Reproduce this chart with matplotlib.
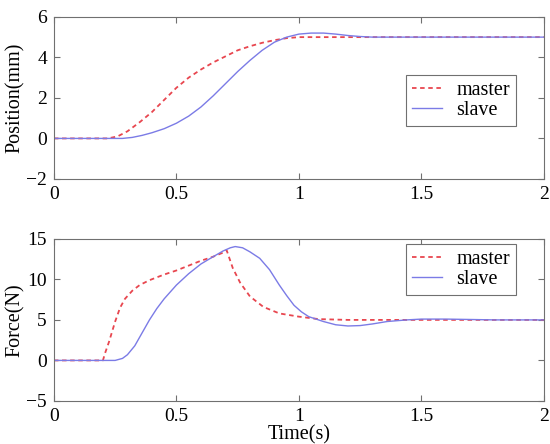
import matplotlib.pyplot as plt

t_pos_master = [0, 0.22, 0.26, 0.30, 0.35, 0.40, 0.45, 0.50, 0.55, 0.60, 0.65, 0.70,
                0.75, 0.80, 0.85, 0.90, 0.95, 1.00, 2.00]
pos_master = [0, 0, 0.1, 0.35, 0.8, 1.3, 1.9, 2.5, 3.0, 3.4, 3.75, 4.05,
              4.35, 4.55, 4.72, 4.85, 4.95, 5.0, 5.0]

t_pos_slave = [0, 0.28, 0.32, 0.36, 0.40, 0.45, 0.50, 0.55, 0.60, 0.65, 0.70, 0.75,
               0.80, 0.85, 0.90, 0.95, 1.00, 1.05, 1.10, 1.15, 1.20, 1.25, 1.30, 2.00]
pos_slave = [0, 0, 0.05, 0.15, 0.28, 0.48, 0.75, 1.1, 1.55, 2.1, 2.7, 3.3,
             3.85, 4.35, 4.75, 5.0, 5.15, 5.2, 5.2, 5.15, 5.08, 5.03, 5.0, 5.0]

t_f_master = [0, 0.20, 0.21, 0.225, 0.25, 0.27, 0.29, 0.32, 0.35, 0.39, 0.45, 0.50,
              0.55, 0.60, 0.65, 0.69, 0.705, 0.73, 0.76, 0.80, 0.855, 0.92, 1.00,
              1.08, 1.20, 2.00]
f_master = [0, 0, 1.0, 2.3, 4.8, 6.5, 7.6, 8.6, 9.3, 9.9, 10.6, 11.1,
            11.7, 12.3, 12.8, 13.3, 13.6, 11.4, 9.6, 7.9, 6.6, 5.8, 5.4,
            5.1, 5.0, 5.0]

t_f_slave = [0, 0.25, 0.28, 0.30, 0.33, 0.36, 0.39, 0.42, 0.45, 0.50, 0.55, 0.60,
             0.65, 0.69, 0.72, 0.74, 0.77, 0.80, 0.84, 0.88, 0.92, 0.95, 0.98, 1.01,
             1.04, 1.07, 1.10, 1.15, 1.20, 1.25, 1.30, 1.36, 1.44, 1.50, 1.60, 1.70,
             1.80, 2.00]
f_slave = [0, 0, 0.25, 0.7, 1.8, 3.4, 5.0, 6.4, 7.6, 9.3, 10.7, 11.9,
           12.8, 13.5, 13.9, 14.05, 13.9, 13.4, 12.6, 11.2, 9.3, 8.0, 6.8, 6.0,
           5.4, 5.1, 4.8, 4.4, 4.25, 4.3, 4.5, 4.8, 5.0, 5.1, 5.1, 5.05,
           5.0, 5.0]

plt.rcParams['font.family'] = 'Liberation Serif'
plt.rcParams['font.size'] = 14.5

red = '#e8464f'
blue = '#7b7be6'
box = '#707070'


def style(ax, ylim, yticks):
    ax.set_xlim(0, 2)
    ax.set_ylim(*ylim)
    ax.set_xticks([0, 0.5, 1, 1.5, 2])
    ax.set_xticklabels(['0', '0.5', '1', '1.5', '2'])
    ax.set_yticks(yticks)
    ax.tick_params(direction='in', top=True, right=True, length=4,
                   color=box, labelsize=14, pad=5)
    for s in ax.spines.values():
        s.set_color(box)
        s.set_linewidth(0.8)


def add_legend(ax, top):
    leg = ax.legend(loc='upper left', bbox_to_anchor=(0.718, top), fancybox=False,
                    framealpha=1, edgecolor=box, borderaxespad=0, handlelength=1.5,
                    handletextpad=0.7, borderpad=0.3, labelspacing=0.05,
                    fontsize=14.5)
    leg.get_frame().set_linewidth(0.8)


fig = plt.figure(figsize=(5.5, 4.44), dpi=100)
ax1 = fig.add_axes([0.098, 0.597, 0.891, 0.365])
ax2 = fig.add_axes([0.098, 0.097, 0.891, 0.365])

ax1.plot(t_pos_master, pos_master, color=red, lw=1.3, ls=(0, (2.5, 2)), label='master')
ax1.plot(t_pos_slave, pos_slave, color=blue, lw=1.0, label='slave')
style(ax1, (-2, 6), [-2, 0, 2, 4, 6])
ax1.set_ylabel('Position(mm)', labelpad=1)
add_legend(ax1, 0.642)

ax2.plot(t_f_master, f_master, color=red, lw=1.3, ls=(0, (2.5, 2)), label='master')
ax2.plot(t_f_slave, f_slave, color=blue, lw=1.0, label='slave')
style(ax2, (-5, 15), [-5, 0, 5, 10, 15])
ax2.set_ylabel('Force(N)', labelpad=1)
ax2.set_xlabel('Time(s)', labelpad=0)
add_legend(ax2, 0.969)

fig.savefig('out.png', dpi=100)
